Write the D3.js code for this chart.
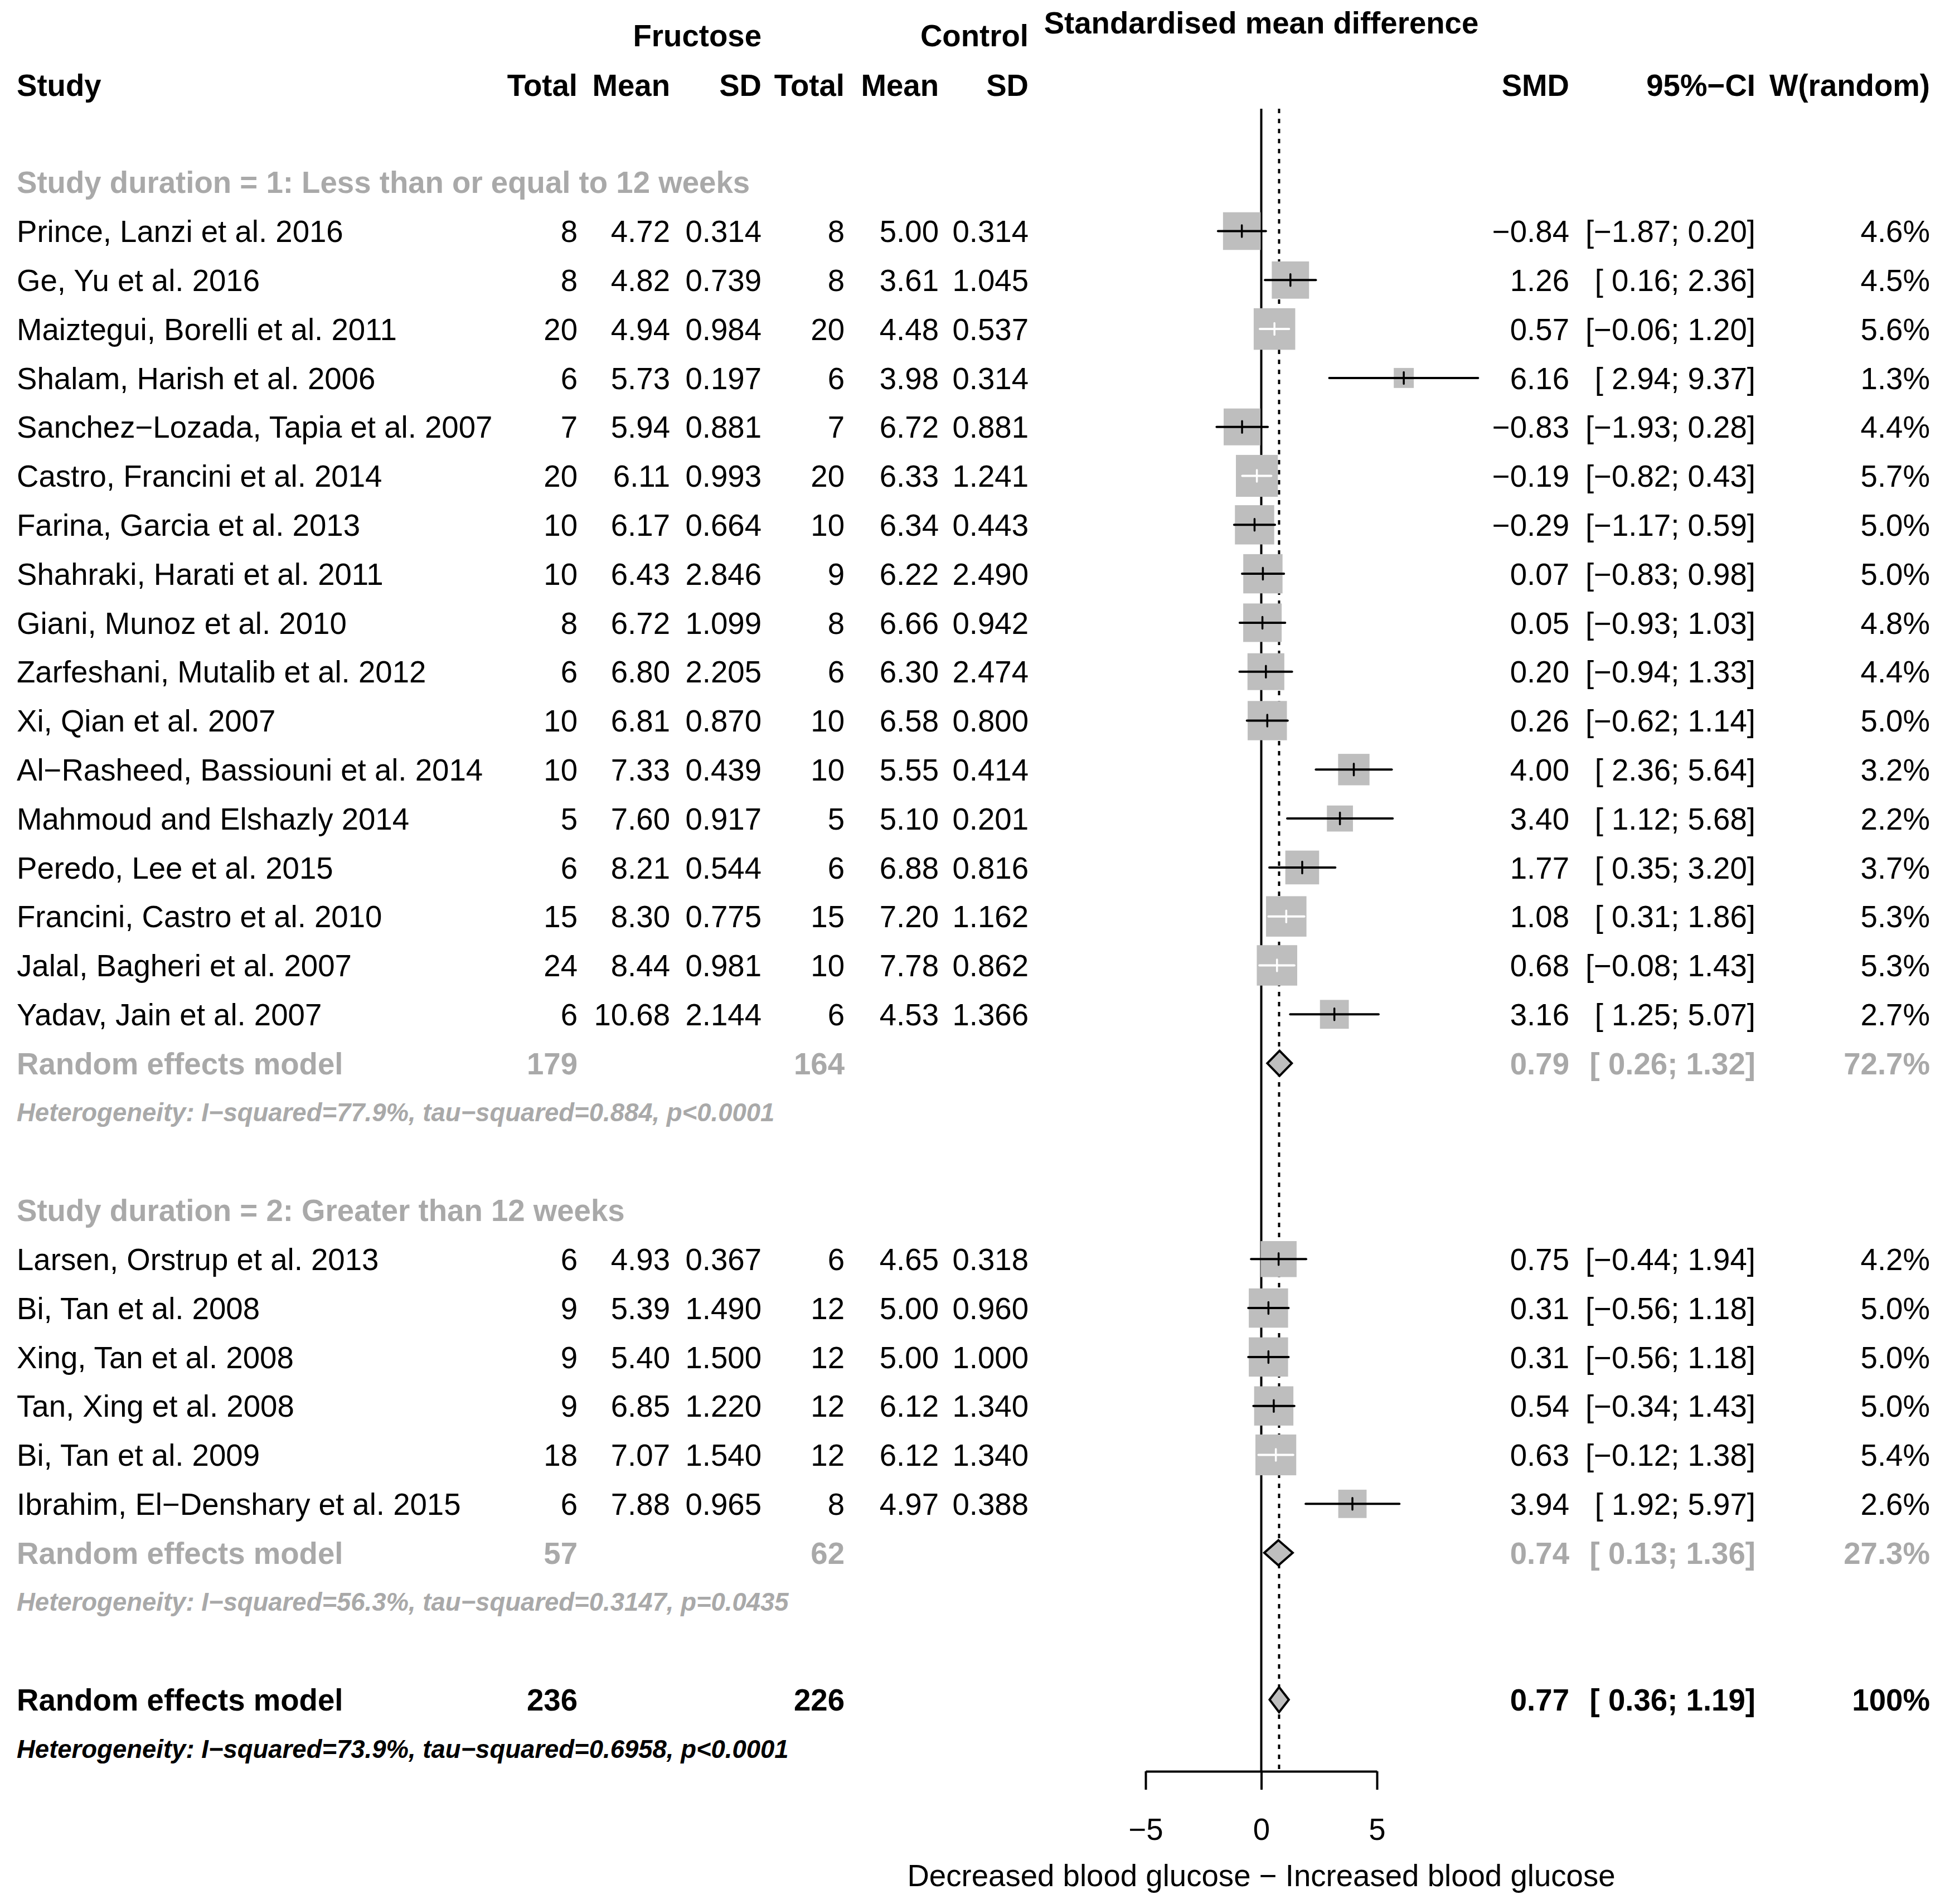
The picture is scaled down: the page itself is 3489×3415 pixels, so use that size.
<!DOCTYPE html>
<html>
<head>
<meta charset="utf-8">
<script src="https://cdn.jsdelivr.net/npm/d3@7"></script>
<style>
body { margin: 0; background: #fff; }
text { font-family: "Liberation Sans", Arial, Helvetica, sans-serif; }
</style>
</head>
<body>
<script>
// ---- data ----
var studies = ["Prince, Lanzi et al. 2016", "Ge, Yu et al. 2016", "Maiztegui, Borelli et al. 2011",
	"Shalam, Harish et al. 2006", "Sanchez\u2212Lozada, Tapia et al. 2007", "Castro, Francini et al. 2014",
	"Farina, Garcia et al. 2013", "Shahraki, Harati et al. 2011", "Giani, Munoz et al. 2010",
	"Zarfeshani, Mutalib et al. 2012", "Xi, Qian et al. 2007", "Al\u2212Rasheed, Bassiouni et al. 2014",
	"Mahmoud and Elshazly 2014", "Peredo, Lee et al. 2015", "Francini, Castro et al. 2010",
	"Jalal, Bagheri et al. 2007", "Yadav, Jain et al. 2007",
	"Larsen, Orstrup et al. 2013", "Bi, Tan et al. 2008", "Xing, Tan et al. 2008",
	"Tan, Xing et al. 2008", "Bi, Tan et al. 2009", "Ibrahim, El\u2212Denshary et al. 2015"];
var studyGroup = [1,1,1,1,1,1,1,1,1,1,1,1,1,1,1,1,1, 2,2,2,2,2,2];
var fruTotal = [8,8,20,6,7,20,10,10,8,6,10,10,5,6,15,24,6, 6,9,9,9,18,6];
var fruMean  = [4.72,4.82,4.94,5.73,5.94,6.11,6.17,6.43,6.72,6.80,6.81,7.33,7.60,8.21,8.30,8.44,10.68, 4.93,5.39,5.40,6.85,7.07,7.88];
var fruSD    = [0.314,0.739,0.984,0.197,0.881,0.993,0.664,2.846,1.099,2.205,0.870,0.439,0.917,0.544,0.775,0.981,2.144, 0.367,1.490,1.500,1.220,1.540,0.965];
var ctlTotal = [8,8,20,6,7,20,10,9,8,6,10,10,5,6,15,10,6, 6,12,12,12,12,8];
var ctlMean  = [5.00,3.61,4.48,3.98,6.72,6.33,6.34,6.22,6.66,6.30,6.58,5.55,5.10,6.88,7.20,7.78,4.53, 4.65,5.00,5.00,6.12,6.12,4.97];
var ctlSD    = [0.314,1.045,0.537,0.314,0.881,1.241,0.443,2.490,0.942,2.474,0.800,0.414,0.201,0.816,1.162,0.862,1.366, 0.318,0.960,1.000,1.340,1.340,0.388];
var smd      = [-0.84,1.26,0.57,6.16,-0.83,-0.19,-0.29,0.07,0.05,0.20,0.26,4.00,3.40,1.77,1.08,0.68,3.16, 0.75,0.31,0.31,0.54,0.63,3.94];
var lower    = [-1.87,0.16,-0.06,2.94,-1.93,-0.82,-1.17,-0.83,-0.93,-0.94,-0.62,2.36,1.12,0.35,0.31,-0.08,1.25, -0.44,-0.56,-0.56,-0.34,-0.12,1.92];
var upper    = [0.20,2.36,1.20,9.37,0.28,0.43,0.59,0.98,1.03,1.33,1.14,5.64,5.68,3.20,1.86,1.43,5.07, 1.94,1.18,1.18,1.43,1.38,5.97];
var weight   = [4.6,4.5,5.6,1.3,4.4,5.7,5.0,5.0,4.8,4.4,5.0,3.2,2.2,3.7,5.3,5.3,2.7, 4.2,5.0,5.0,5.0,5.4,2.6];

var groupLabels   = ["Study duration = 1: Less than or equal to 12 weeks", "Study duration = 2: Greater than 12 weeks"];
var groupFruTotal = [179, 57];
var groupCtlTotal = [164, 62];
var groupSmd      = [0.79, 0.74];
var groupLower    = [0.26, 0.13];
var groupUpper    = [1.32, 1.36];
var groupWeight   = ["72.7%", "27.3%"];
var groupHet      = ["Heterogeneity: I\u2212squared=77.9%, tau\u2212squared=0.884, p<0.0001",
	"Heterogeneity: I\u2212squared=56.3%, tau\u2212squared=0.3147, p=0.0435"];

var overall = {fruTotal: 236, ctlTotal: 226, smd: 0.77, lower: 0.36, upper: 1.19, weight: "100%",
	het: "Heterogeneity: I\u2212squared=73.9%, tau\u2212squared=0.6958, p<0.0001"};

var xTicks = [-5, 0, 5];
var xLabel = "Decreased blood glucose \u2212 Increased blood glucose";

// ---- layout ----
var W = 3489, H = 3415;
var fs = 54.6, fsHet = 45.5;
var grey = "#A9A9A9", boxGrey = "#BEBEBE";
var col = {study: 30, fTot: 1036, fMean: 1202, fSD: 1366, cTot: 1515, cMean: 1684, cSD: 1845,
	smd: 2815, ci: 3149, w: 3462};

var svg = d3.select("body").append("svg")
	.attr("width", W).attr("height", H);
svg.append("rect").attr("width", W).attr("height", H).attr("fill", "#fff");

var x = d3.scaleLinear().domain([-5, 5]).range([2055, 2470]);
var yRow = d3.scaleLinear().domain([0, 31]).range([414.5, 3136.3]);

function minus(s) { return s.replace(/-/g, "\u2212"); }
function f2(v) { return minus(v.toFixed(2)); }
function ciText(lo, hi) { return "[" + (lo >= 0 ? " " : "") + f2(lo) + "; " + f2(hi) + "]"; }

function txt(str, xx, k, opts) {
	opts = opts || {};
	var size = opts.size || fs;
	return svg.append("text")
		.attr("x", xx)
		.attr("y", (typeof k === "number" ? yRow(k) : k.y) + 0.36 * size)
		.attr("text-anchor", opts.anchor || "start")
		.attr("font-size", size)
		.attr("font-weight", opts.bold ? "bold" : "normal")
		.attr("font-style", opts.italic ? "italic" : "normal")
		.attr("fill", opts.color || "#000")
		.text(str);
}

// ---- headers ----
txt("Standardised mean difference", x(0), {y: 40}, {bold: true, anchor: "middle"});
txt("Fructose", col.fSD, {y: 63}, {bold: true, anchor: "end"});
txt("Control", col.cSD, {y: 63}, {bold: true, anchor: "end"});
var hy = {y: 152};
txt("Study", col.study, hy, {bold: true});
[["Total", col.fTot], ["Mean", col.fMean], ["SD", col.fSD], ["Total", col.cTot], ["Mean", col.cMean],
 ["SD", col.cSD], ["SMD", col.smd], ["95%\u2212CI", col.ci], ["W(random)", col.w]].forEach(function(h){
	txt(h[0], h[1], hy, {bold: true, anchor: "end"});
});

// ---- reference lines ----
var yTop = 195, yAxis = 3177;
svg.append("line").attr("x1", x(0)).attr("x2", x(0)).attr("y1", yTop).attr("y2", yAxis)
	.attr("stroke", "#000").attr("stroke-width", 4);
svg.append("line").attr("x1", x(overall.smd)).attr("x2", x(overall.smd)).attr("y1", yTop).attr("y2", yAxis)
	.attr("stroke", "#000").attr("stroke-width", 4).attr("stroke-dasharray", "8,10");

// ---- rows ----
var marks = svg.append("g");
function diamond(k, est, lo, hi) {
	var cy = yRow(k), h = 22.5;
	marks.append("path")
		.attr("d", "M" + x(lo) + "," + cy + "L" + x(est) + "," + (cy - h) + "L" + x(hi) + "," + cy +
			"L" + x(est) + "," + (cy + h) + "Z")
		.attr("fill", boxGrey).attr("stroke", "#000").attr("stroke-width", 4).attr("stroke-linejoin", "miter");
}

var k = -1;
[1, 2].forEach(function(g, gi){
	txt(groupLabels[gi], col.study, k, {bold: true, color: grey});
	k++;
	studies.forEach(function(name, i){
		if (studyGroup[i] !== g) return;
		txt(name, col.study, k);
		txt(String(fruTotal[i]), col.fTot, k, {anchor: "end"});
		txt(fruMean[i].toFixed(2), col.fMean, k, {anchor: "end"});
		txt(fruSD[i].toFixed(3), col.fSD, k, {anchor: "end"});
		txt(String(ctlTotal[i]), col.cTot, k, {anchor: "end"});
		txt(ctlMean[i].toFixed(2), col.cMean, k, {anchor: "end"});
		txt(ctlSD[i].toFixed(3), col.cSD, k, {anchor: "end"});
		txt(f2(smd[i]), col.smd, k, {anchor: "end"});
		txt(ciText(lower[i], upper[i]), col.ci, k, {anchor: "end"});
		txt(weight[i].toFixed(1) + "%", col.w, k, {anchor: "end"});

		var cy = yRow(k), cx = x(smd[i]), s = 31.5 * Math.sqrt(weight[i]);
		marks.append("rect").attr("x", cx - s / 2).attr("y", cy - s / 2)
			.attr("width", s).attr("height", s).attr("fill", boxGrey);
		var inside = x(lower[i]) >= cx - s / 2 && x(upper[i]) <= cx + s / 2;
		var lc = inside ? "#fff" : "#000";
		marks.append("line").attr("x1", x(lower[i])).attr("x2", x(upper[i])).attr("y1", cy).attr("y2", cy)
			.attr("stroke", lc).attr("stroke-width", 4).attr("stroke-linecap", "round");
		marks.append("line").attr("x1", cx).attr("x2", cx).attr("y1", cy - 10.5).attr("y2", cy + 10.5)
			.attr("stroke", lc).attr("stroke-width", 3.5).attr("stroke-linecap", "round");
		k++;
	});
	txt("Random effects model", col.study, k, {bold: true, color: grey});
	txt(String(groupFruTotal[gi]), col.fTot, k, {bold: true, color: grey, anchor: "end"});
	txt(String(groupCtlTotal[gi]), col.cTot, k, {bold: true, color: grey, anchor: "end"});
	txt(f2(groupSmd[gi]), col.smd, k, {bold: true, color: grey, anchor: "end"});
	txt(ciText(groupLower[gi], groupUpper[gi]), col.ci, k, {bold: true, color: grey, anchor: "end"});
	txt(groupWeight[gi], col.w, k, {bold: true, color: grey, anchor: "end"});
	diamond(k, groupSmd[gi], groupLower[gi], groupUpper[gi]);
	k++;
	txt(groupHet[gi], col.study, k, {bold: true, italic: true, color: grey, size: fsHet});
	k += 2;
});

txt("Random effects model", col.study, k, {bold: true});
txt(String(overall.fruTotal), col.fTot, k, {bold: true, anchor: "end"});
txt(String(overall.ctlTotal), col.cTot, k, {bold: true, anchor: "end"});
txt(f2(overall.smd), col.smd, k, {bold: true, anchor: "end"});
txt(ciText(overall.lower, overall.upper), col.ci, k, {bold: true, anchor: "end"});
txt(overall.weight, col.w, k, {bold: true, anchor: "end"});
diamond(k, overall.smd, overall.lower, overall.upper);
k++;
txt(overall.het, col.study, k, {bold: true, italic: true, size: fsHet});

// ---- x axis ----
var axis = svg.append("g")
	.attr("transform", "translate(0," + yAxis + ")")
	.call(d3.axisBottom(x).tickValues(xTicks).tickSize(33).tickSizeOuter(0).tickPadding(51));
axis.select(".domain").attr("stroke", "#000").attr("stroke-width", 4);
axis.selectAll(".tick line").attr("stroke", "#000").attr("stroke-width", 4);
axis.selectAll(".tick text").attr("font-size", fs).attr("fill", "#000")
	.attr("font-family", "'Liberation Sans', Arial, Helvetica, sans-serif");

txt(xLabel, x(0), {y: 3363}, {anchor: "middle"});
</script>
</body>
</html>
